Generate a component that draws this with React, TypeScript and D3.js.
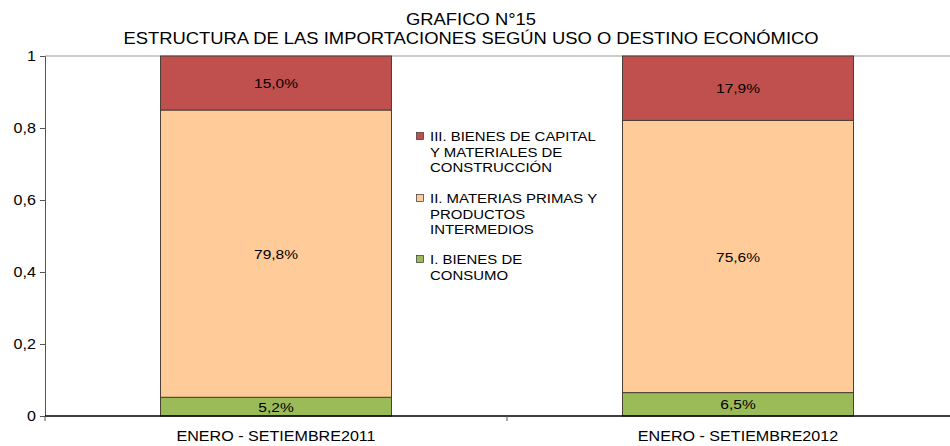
import React, { useEffect, useRef } from 'react';
import * as d3 from 'd3';

const categories = ['ENERO - SETIEMBRE2011', 'ENERO - SETIEMBRE2012'];
const seriesKeys = ['consumo', 'materias', 'capital'];
const consumo = [5.2, 6.5];
const materias = [79.8, 75.6];
const capital = [15.0, 17.9];
const yTicks = [0, 0.2, 0.4, 0.6, 0.8, 1];
const colors = ['#9BBB59', '#FFCC99', '#C0504D'];
const legendLines = [
    ['III. BIENES DE CAPITAL', 'Y MATERIALES DE', 'CONSTRUCCIÓN'],
    ['II. MATERIAS PRIMAS Y', 'PRODUCTOS', 'INTERMEDIOS'],
    ['I. BIENES DE', 'CONSUMO'],
];

const width = 950;
const height = 446;
const stretch = 1.15;

const App: React.FC = () => {
    const svgRef = useRef<SVGSVGElement>(null);

    useEffect(() => {
        if (!svgRef.current) return;
        const svg = d3.select(svgRef.current);
        svg.selectAll('*').remove();

        const font = '"Liberation Sans", Arial, sans-serif';
        const left = 45, top = 56, bottom = 416;

        // text drawn a bit wider than the font, like the original
        const label = (g: any, tx: number, ty: number, txt: string, size: number, anchor = 'middle') =>
            g.append('text')
                .attr('transform', `translate(${tx},${ty}) scale(${stretch},1)`)
                .attr('text-anchor', anchor)
                .style('font-family', font).style('font-size', size + 'px')
                .attr('fill', '#000')
                .text(txt);

        const x = d3.scaleBand<string>()
            .domain(categories)
            .range([left, 969])
            .paddingInner(0.5)
            .paddingOuter(0.25);

        const y = d3.scaleLinear().domain([0, 1]).range([bottom, top]);

        // title
        label(svg, 471, 25, 'GRAFICO N°15', 16);
        label(svg, 471, 44, 'ESTRUCTURA DE LAS IMPORTACIONES SEGÚN USO O DESTINO ECONÓMICO', 16);

        // plot border top
        svg.append('line')
            .attr('x1', left).attr('x2', width)
            .attr('y1', top).attr('y2', top)
            .attr('stroke', '#999').attr('stroke-width', 1);

        const rows = categories.map((c, i) => ({
            cat: c,
            consumo: consumo[i] / 100,
            materias: materias[i] / 100,
            capital: capital[i] / 100,
        }));
        const series = d3.stack<any>().keys(seriesKeys)(rows);

        series.forEach((s, si) => {
            const g = svg.append('g');
            g.selectAll('rect')
                .data(s)
                .join('rect')
                .attr('x', d => x(d.data.cat)!)
                .attr('width', x.bandwidth())
                .attr('y', d => y(d[1]))
                .attr('height', d => y(d[0]) - y(d[1]))
                .attr('fill', colors[si])
                .attr('stroke', '#4a3f35')
                .attr('stroke-width', 1);
            s.forEach(d => {
                label(g, x(d.data.cat)! + x.bandwidth() / 2, (y(d[0]) + y(d[1])) / 2 + 5,
                    ((d[1] - d[0]) * 100).toFixed(1).replace('.', ',') + '%', 13.5);
            });
        });

        // y axis
        const yAxis = svg.append('g')
            .attr('transform', `translate(${left},0)`)
            .call(d3.axisLeft(y).tickValues(yTicks).tickSize(5).tickFormat(() => ''));
        yAxis.select('.domain').attr('stroke', '#555');
        yAxis.selectAll('.tick line').attr('stroke', '#555');
        yTicks.forEach(t => {
            label(svg, 36, y(t) + 5, d3.format('.1~f')(t).replace('.', ','), 14, 'end');
        });

        // x axis
        svg.append('line')
            .attr('x1', left).attr('x2', width)
            .attr('y1', bottom).attr('y2', bottom)
            .attr('stroke', '#000').attr('stroke-width', 1.5);
        [left, left + x.step()].forEach(tx => {
            svg.append('line')
                .attr('x1', tx).attr('x2', tx)
                .attr('y1', bottom).attr('y2', bottom + 5)
                .attr('stroke', '#555');
        });
        categories.forEach(c => {
            label(svg, x(c)! + x.bandwidth() / 2, 441, c, 14);
        });

        // legend
        const legend = svg.append('g');
        const starts = [141, 203, 264];
        legendLines.forEach((lines, i) => {
            legend.append('rect')
                .attr('x', 416.5).attr('y', starts[i] - 8.5)
                .attr('width', 7).attr('height', 7)
                .attr('fill', colors[2 - i])
                .attr('stroke', '#333').attr('stroke-width', 0.7);
            lines.forEach((ln, j) => {
                label(legend, 430, starts[i] + j * 15.7, ln, 13, 'start');
            });
        });
    }, []);

    return (
        <svg ref={svgRef} width={width} height={height}
            style={{ position: 'absolute', left: 0, top: 0, background: '#fff' }}></svg>
    );
};

export default App;
